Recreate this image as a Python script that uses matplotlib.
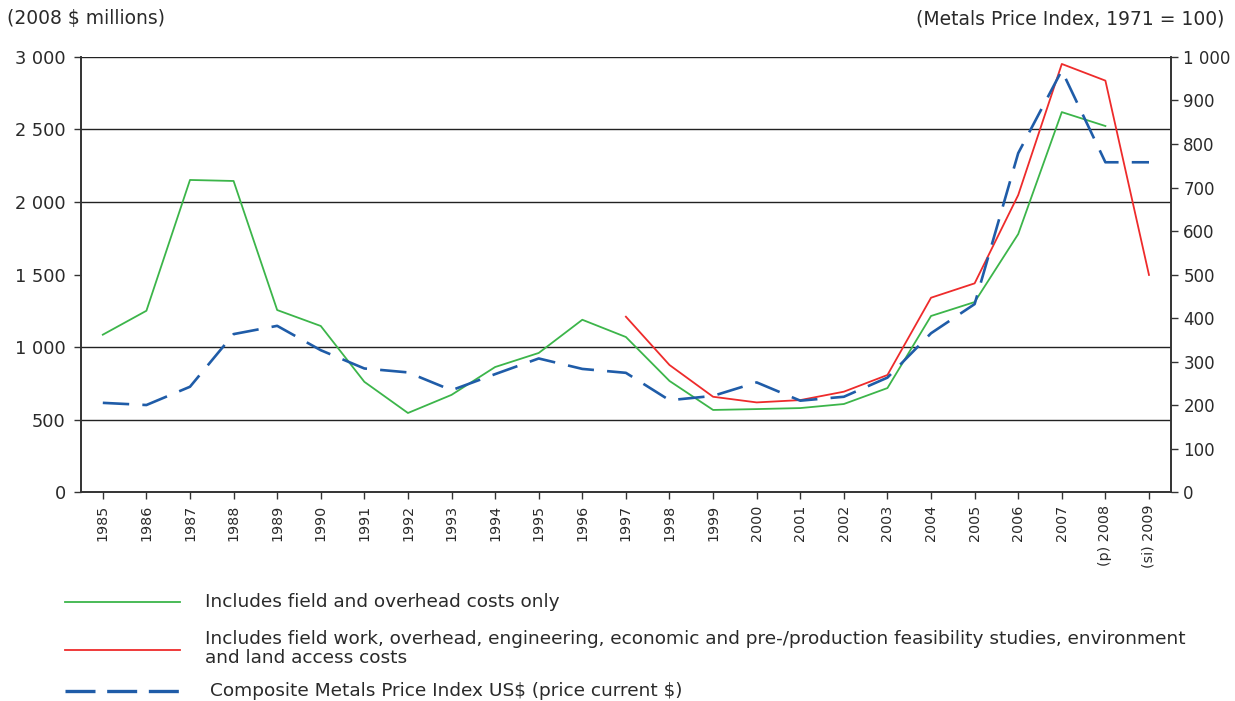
import matplotlib
matplotlib.use("Agg")
import matplotlib.pyplot as plt
from matplotlib.lines import Line2D

years = ["1985", "1986", "1987", "1988", "1989", "1990", "1991", "1992", "1993",
         "1994", "1995", "1996", "1997", "1998", "1999", "2000", "2001", "2002",
         "2003", "2004", "2005", "2006", "2007", "(p) 2008", "(si) 2009"]

field_overhead = [1085, 1250, 2152, 2145, 1255, 1145, 760, 545, 670, 862, 959, 1188,
                  1069, 766, 566, 572, 579, 607, 717, 1214, 1310, 1779, 2620, 2524, None]

full_costs = [None] * 12 + [1209, 876, 657, 618, 634, 692, 807, 1340, 1439, 2048,
                            2952, 2837, 1497]

metals_index = [205, 200, 242, 363, 382, 326, 284, 275, 234, 271, 307, 283, 274, 211,
                221, 252, 210, 219, 263, 365, 432, 779, 969, 758, 758]

left_ticks = [0, 500, 1000, 1500, 2000, 2500, 3000]
right_ticks = list(range(0, 1001, 100))
grid_values = [500, 1000, 2000, 2500, 3000]

legend_labels = [
    "Includes field and overhead costs only",
    "Includes field work, overhead, engineering, economic and pre-/production feasibility studies, environment\nand land access costs",
    "Composite Metals Price Index US$ (price current $)",
]

plt.rcParams["font.family"] = ["DejaVu Sans"]
plt.rcParams["text.parse_math"] = False

GREEN = "#3cb54a"
RED = "#ee2b2b"
BLUE = "#1f5ca8"
TXT = "#2a2a2a"

fig = plt.figure(figsize=(12.35, 7.01), dpi=100)
ax = fig.add_axes([0.0656, 0.2981, 0.8824, 0.6206])
ax2 = ax.twinx()

x = list(range(len(years)))

def seg(vals):
    return [float("nan") if v is None else v for v in vals]

for g in grid_values:
    ax.axhline(g, color="#222222", lw=1.0, zorder=1)

ax.plot(x, seg(field_overhead), color=GREEN, lw=1.3, zorder=3)
ax.plot(x, seg(full_costs), color=RED, lw=1.3, zorder=3)
ax2.plot(x, metals_index, color=BLUE, lw=1.9, dashes=(10, 5), zorder=3)

ax.set_xlim(-0.5, len(years) - 0.5)
ax.set_ylim(0, 3000)
ax2.set_ylim(0, 1000)

ax.set_yticks(left_ticks)
ax.set_yticklabels([f"{v:,}".replace(",", " ") for v in left_ticks], fontsize=12.8, color=TXT)
ax2.set_yticks(right_ticks)
ax2.set_yticklabels([f"{v:,}".replace(",", " ") for v in right_ticks], fontsize=12, color=TXT)

ax.set_xticks(x)
ax.set_xticklabels(years, rotation=90, fontsize=10.3, color=TXT)

for a in (ax, ax2):
    a.spines["top"].set_visible(False)
    for s in ("left", "right", "bottom"):
        a.spines[s].set_color("#333333")
        a.spines[s].set_linewidth(1.2)
    a.tick_params(direction="out", length=5, width=1.0, color="#333333", pad=4)
ax.tick_params(axis="y", pad=6)

fig.text(0.006, 0.973, "(2008 $ millions)", fontsize=13.5, color=TXT, ha="left", va="center")
fig.text(0.991, 0.973, "(Metals Price Index, 1971 = 100)", fontsize=13.5, color=TXT,
         ha="right", va="center")

styles = [(GREEN, None, 602), (RED, None, 650), (BLUE, (9, 3.5), 691)]
text_y = [602, 639, 691]
text_x = [205, 205, 210]
for (color, dashes, ly), label, ty, tx in zip(styles, legend_labels, text_y, text_x):
    fy = 1 - ly / 701
    ln = Line2D([65 / 1235, 180 / 1235], [fy, fy], transform=fig.transFigure, color=color,
                lw=1.3 if dashes is None else 2.4)
    if dashes is not None:
        ln.set_dashes(dashes)
    fig.add_artist(ln)
    if "\n" in label:
        fig.text(tx / 1235, 1 - (ty - 9) / 701, label, fontsize=13.3, color=TXT,
                 ha="left", va="top", linespacing=1.05)
    else:
        fig.text(tx / 1235, 1 - ty / 701, label, fontsize=13.3, color=TXT,
                 ha="left", va="center")

fig.savefig("out.png", dpi=100)
